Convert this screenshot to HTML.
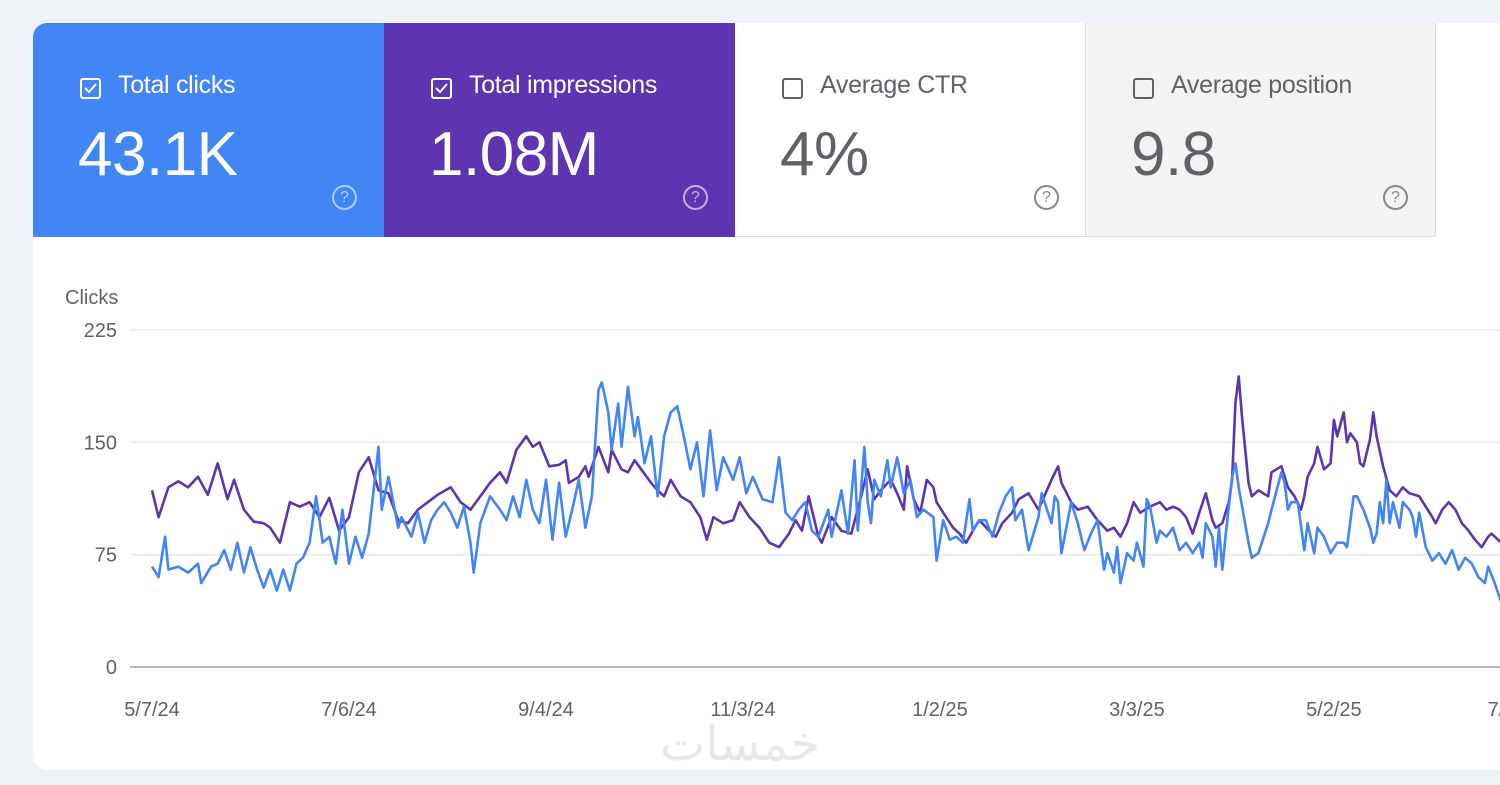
<!DOCTYPE html>
<html><head><meta charset="utf-8">
<style>
html,body{margin:0;padding:0;width:1500px;height:785px;overflow:hidden;background:#eff2f7;font-family:"Liberation Sans","Noto Sans CJK SC",sans-serif}
#card{position:absolute;left:33px;top:23px;width:1500px;height:747px;background:#fff;border-radius:14px;overflow:hidden}
.tile{position:absolute;top:0;height:214px;width:351px;box-sizing:border-box}
.tile .lbl{position:absolute;left:46px;top:48px;font-size:25px;letter-spacing:-0.3px}
.tile .cb{position:absolute;left:47px;top:55px;width:21px;height:21px;box-sizing:border-box;border:2px solid;border-radius:3px}
.tile .lbl span{margin-left:39px}
.tile .num{position:absolute;left:45px;top:96px;font-size:62px;letter-spacing:-0.5px}
.tile .help{position:absolute;right:27px;top:162px;width:21px;height:21px;border:2px solid;border-radius:50%;font-size:16px;text-align:center;line-height:21px}
</style></head><body>
<div id="card">
 <div class="tile" style="left:0;background:#4285f4;color:#fff">
  <div class="cb" style="border-color:#fff"><svg width="17" height="17" style="position:absolute;left:0;top:0"><path d="M3 8 L7 12 L14 4" stroke="#fff" stroke-width="2" fill="none"/></svg></div>
  <div class="lbl"><span>Total clicks</span></div>
  <div class="num">43.1K</div>
  <div class="help" style="border-color:#b3cdfb;color:#b3cdfb">?</div>
 </div>
 <div class="tile" style="left:351px;background:#5e35b1;color:#fff">
  <div class="cb" style="border-color:#fff"><svg width="17" height="17" style="position:absolute;left:0;top:0"><path d="M3 8 L7 12 L14 4" stroke="#fff" stroke-width="2" fill="none"/></svg></div>
  <div class="lbl"><span>Total impressions</span></div>
  <div class="num">1.08M</div>
  <div class="help" style="border-color:#c3b1e6;color:#c3b1e6">?</div>
 </div>
 <div class="tile" style="left:702px;background:#fff;color:#5f6368;border-bottom:1px solid #ddd">
  <div class="cb" style="border-color:#5f6368"></div>
  <div class="lbl"><span>Average CTR</span></div>
  <div class="num">4%</div>
  <div class="help" style="border-color:#888;color:#888">?</div>
 </div>
 <div class="tile" style="left:1052px;width:351px;background:#f3f3f3;color:#5f6368;border:1px solid #ddd;border-top:none">
  <div class="cb" style="border-color:#5f6368"></div>
  <div class="lbl"><span>Average position</span></div>
  <div class="num">9.8</div>
  <div class="help" style="border-color:#888;color:#888">?</div>
 </div>
</div>
<svg id="chart" width="1500" height="785" style="position:absolute;left:0;top:0"></svg>
<div style="position:absolute;left:660px;top:716px;font-size:48px;color:#e8e8e8;font-family:'Liberation Sans','Noto Sans CJK SC',sans-serif">خمسات</div>
<script>
const yTicks=[0,75,150,225];
const xTickLabels=["5/7/24","7/6/24","9/4/24","11/3/24","1/2/25","3/3/25","5/2/25","7/1/25"];
const xTickDays=[0,60,120,180,240,300,360,412];
const purpleDays=[0,2,5,8,11,14,17,20,23,25,28,31,34,36,39,42,45,48,51,54,57,60,63,66,69,72,75,78,81,84,87,91,94,97,100,103,106,108,111,114,116,118,121,124,126,127,130,132,133,136,139,140,143,145,147,149,152,154,156,158,161,164,167,169,171,174,177,179,182,185,188,191,194,196,198,200,203,204,207,210,213,216,218,220,222,225,227,229,230,232,234,236,238,239,241,244,246,248,250,252,255,257,259,262,264,267,270,274,276,277,280,282,285,288,291,293,295,297,299,301,304,307,309,311,313,315,317,319,321,323,324,326,328,329,330,331,332,334,335,337,340,341,344,346,348,350,351,352,354,355,357,359,360,361,363,364,365,367,368,369,371,372,373,375,377,379,381,383,386,388,390,391,393,395,397,399,401,403,405,407,408,411];
const purpleVals=[118,100,120,124,120,127,115,136,112,125,105,97,96,93,83,110,107,110,100,113,91,100,130,140,118,116,98,96,105,110,115,120,110,105,114,123,130,123,145,154,147,150,134,135,138,123,127,134,127,147,130,145,132,130,138,132,123,118,114,125,114,110,100,85,100,96,98,110,100,93,83,80,89,98,91,114,87,83,100,91,89,114,132,112,118,125,116,105,134,112,103,125,120,110,103,93,89,83,91,98,91,87,96,103,112,116,105,125,134,123,110,105,107,98,91,93,87,96,110,103,107,110,105,107,105,100,89,103,116,98,93,96,110,125,176,194,167,123,114,118,114,130,134,120,114,105,114,127,136,147,132,136,165,154,170,150,156,150,136,134,152,170,154,134,118,114,120,116,114,107,100,96,105,110,105,96,91,85,80,87,89,83];
const blueDays=[0,2,4,5,8,11,14,15,18,20,22,24,26,28,30,32,34,36,38,40,42,44,46,48,50,52,54,56,58,60,62,64,66,69,70,72,75,76,79,81,83,85,87,89,91,93,95,97,98,100,103,106,108,110,112,114,116,118,120,122,124,126,128,130,132,134,136,137,139,140,142,143,145,147,148,150,152,154,156,158,160,162,164,166,168,170,172,174,177,179,181,183,186,189,191,193,195,197,199,201,203,206,207,210,212,214,215,217,218,219,220,222,224,225,227,229,231,233,235,238,239,241,243,245,247,249,250,252,254,256,258,260,262,263,265,267,270,271,274,275,276,277,280,282,284,286,288,290,291,293,294,295,297,299,300,302,303,304,306,307,309,311,313,315,317,319,320,321,323,324,325,326,327,329,330,331,334,335,337,340,341,344,345,346,347,349,351,352,354,355,357,359,361,363,364,366,367,369,371,372,373,374,375,376,377,378,380,381,383,384,385,386,388,390,392,394,396,398,400,402,404,406,407,409,411];
const blueVals=[67,60,87,65,67,63,69,56,67,69,78,65,83,63,80,65,53,65,51,65,51,69,73,83,114,83,87,69,105,69,87,73,89,147,105,127,93,100,87,103,83,98,105,110,103,93,107,83,63,96,114,105,98,114,100,125,105,96,125,85,123,87,105,125,93,114,185,190,170,145,176,147,187,154,167,136,154,114,154,170,174,154,132,150,114,158,118,140,125,140,116,127,112,110,140,103,98,105,110,91,87,105,87,118,89,138,91,147,110,96,125,114,138,120,140,116,125,100,105,100,71,98,85,87,83,112,91,98,98,87,103,114,120,98,105,78,100,116,96,114,110,76,110,96,78,89,98,65,76,63,80,56,76,71,83,67,112,107,83,91,87,93,78,83,76,83,73,96,87,67,93,65,87,127,136,120,83,73,76,96,105,130,123,105,110,110,78,96,76,93,87,76,83,83,80,114,114,105,93,83,89,110,96,125,96,110,93,110,105,100,87,103,80,71,76,69,78,65,73,69,60,56,67,56,43];
const NS='http://www.w3.org/2000/svg';
const svg=document.getElementById('chart');
const X0=152,PX_PER_DAY=3.283,Y0=667,PX_PER_UNIT=337/225;
function xs(d){return X0+d*PX_PER_DAY;}
function ys(v){return Y0-v*PX_PER_UNIT;}
function mk(tag,attrs){const e=document.createElementNS(NS,tag);for(const k in attrs)e.setAttribute(k,attrs[k]);svg.appendChild(e);return e;}
const yt=mk('text',{x:65,y:304,'font-size':'20','fill':'#5f6368','font-family':'Liberation Sans, sans-serif'});
yt.textContent='Clicks';


yTicks.forEach(v=>{
  const g=mk('line',{x1:130,x2:1500,y1:ys(v),y2:ys(v),stroke:v===0?'#9aa0a6':'#e6e6e6','stroke-width':v===0?1.5:1.3});
  
  
  const t=mk('text',{x:117,y:ys(v)+7,'text-anchor':'end','font-size':'20','fill':'#5f6368','font-family':'Liberation Sans, sans-serif'});
  t.textContent=v;
  
  
});
xTickLabels.forEach((lab,i)=>{
  const last=i===xTickLabels.length-1;
  const t=mk('text',{x:last?xs(xTickDays[i])-17:xs(xTickDays[i]),y:716,'text-anchor':last?'start':'middle','font-size':'20','fill':'#5f6368','font-family':'Liberation Sans, sans-serif'});
  t.textContent=lab;
  
  
});
function series(days,vals,color,name){
  let d='';
  days.forEach((dd,i)=>{d+=(i?'L':'M')+xs(dd).toFixed(1)+' '+ys(vals[i]).toFixed(1);});
  const p=mk('path',{d:d,fill:'none',stroke:color,'stroke-width':2.6,'stroke-linejoin':'round'});
  
  
}
series(purpleDays,purpleVals,'#5e35b1','impressions-line');
series(blueDays,blueVals,'#4285f4','clicks-line');
</script>
</body></html>
